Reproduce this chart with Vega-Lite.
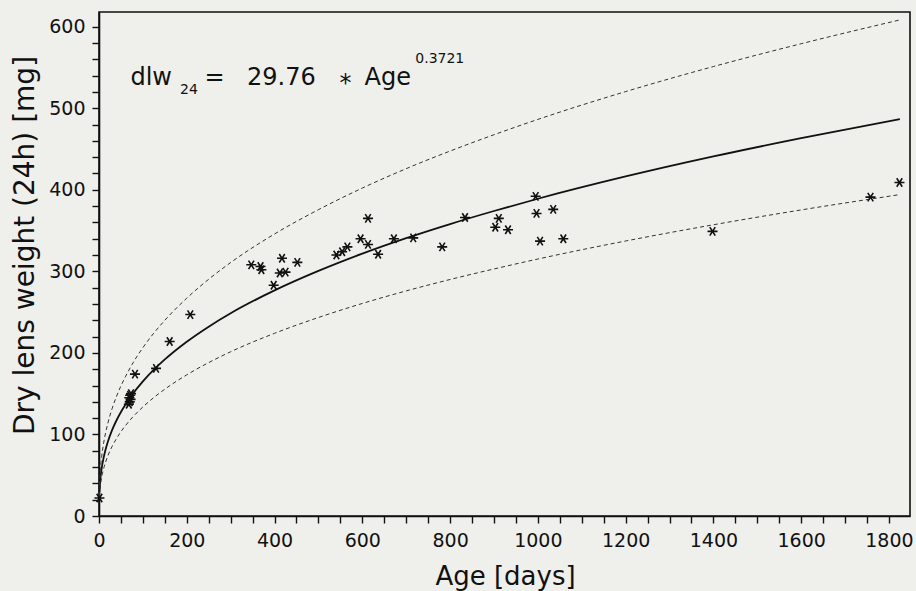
{
  "$schema": "https://vega.github.io/schema/vega-lite/v6.json",
  "width": 811,
  "height": 504,
  "autosize": {"type": "none"},
  "padding": {"left": 99, "top": 12, "right": 6, "bottom": 75},
  "background": "#efefeb",
  "config": {
    "view": {"stroke": "#111111", "strokeWidth": 1.6},
    "font": "DejaVu Sans",
    "axis": {"grid": false, "labelFont": "DejaVu Sans", "titleFont": "DejaVu Sans", "labelColor": "#111111", "titleColor": "#111111", "tickColor": "#111111", "domainColor": "#111111", "tickWidth": 1.4, "domainWidth": 1.6, "titleFontWeight": "normal"}
  },
  "datasets": {
    "curve": [
      {"age": 1, "fit": 29.8, "upper": 37.2, "lower": 24.1},
      {"age": 3, "fit": 44.8, "upper": 56.0, "lower": 36.3},
      {"age": 6, "fit": 58.0, "upper": 72.5, "lower": 47.0},
      {"age": 10, "fit": 70.1, "upper": 87.6, "lower": 56.8},
      {"age": 15, "fit": 81.5, "upper": 101.9, "lower": 66.0},
      {"age": 20, "fit": 90.7, "upper": 113.4, "lower": 73.5},
      {"age": 30, "fit": 105.5, "upper": 131.9, "lower": 85.5},
      {"age": 40, "fit": 117.4, "upper": 146.8, "lower": 95.1},
      {"age": 50, "fit": 127.6, "upper": 159.5, "lower": 103.4},
      {"age": 60, "fit": 136.5, "upper": 170.6, "lower": 110.6},
      {"age": 75, "fit": 148.4, "upper": 185.5, "lower": 120.2},
      {"age": 100, "fit": 165.1, "upper": 206.4, "lower": 133.7},
      {"age": 125, "fit": 179.4, "upper": 224.3, "lower": 145.3},
      {"age": 150, "fit": 192.0, "upper": 240.0, "lower": 155.5},
      {"age": 200, "fit": 213.7, "upper": 267.1, "lower": 173.1},
      {"age": 250, "fit": 232.2, "upper": 290.3, "lower": 188.1},
      {"age": 300, "fit": 248.6, "upper": 310.8, "lower": 201.4},
      {"age": 400, "fit": 276.6, "upper": 345.8, "lower": 224.0},
      {"age": 500, "fit": 300.5, "upper": 375.6, "lower": 243.4},
      {"age": 600, "fit": 321.7, "upper": 402.1, "lower": 260.6},
      {"age": 700, "fit": 340.7, "upper": 425.9, "lower": 276.0},
      {"age": 800, "fit": 358.0, "upper": 447.5, "lower": 290.0},
      {"age": 900, "fit": 374.0, "upper": 467.5, "lower": 302.9},
      {"age": 1000, "fit": 389.0, "upper": 486.3, "lower": 315.1},
      {"age": 1200, "fit": 416.3, "upper": 520.4, "lower": 337.2},
      {"age": 1400, "fit": 440.9, "upper": 551.1, "lower": 357.1},
      {"age": 1600, "fit": 463.3, "upper": 579.1, "lower": 375.3},
      {"age": 1825, "fit": 486.6, "upper": 608.3, "lower": 394.1}
    ],
    "obs": [
      {"age": 1, "w": 22},
      {"age": 68, "w": 137}, {"age": 70, "w": 140}, {"age": 72, "w": 143},
      {"age": 69, "w": 145}, {"age": 71, "w": 148}, {"age": 73, "w": 150},
      {"age": 82, "w": 174}, {"age": 130, "w": 181}, {"age": 161, "w": 214},
      {"age": 208, "w": 247}, {"age": 347, "w": 308}, {"age": 368, "w": 306},
      {"age": 370, "w": 302}, {"age": 398, "w": 283}, {"age": 412, "w": 298},
      {"age": 425, "w": 299}, {"age": 417, "w": 316}, {"age": 452, "w": 311},
      {"age": 541, "w": 320}, {"age": 554, "w": 324}, {"age": 566, "w": 330},
      {"age": 596, "w": 340}, {"age": 613, "w": 365}, {"age": 613, "w": 333},
      {"age": 636, "w": 321}, {"age": 672, "w": 340}, {"age": 716, "w": 341},
      {"age": 782, "w": 330}, {"age": 834, "w": 366}, {"age": 903, "w": 354},
      {"age": 911, "w": 365}, {"age": 932, "w": 351}, {"age": 995, "w": 392},
      {"age": 997, "w": 371}, {"age": 1005, "w": 337}, {"age": 1035, "w": 376},
      {"age": 1058, "w": 340}, {"age": 1398, "w": 349}, {"age": 1758, "w": 391},
      {"age": 1824, "w": 409}
    ]
  },
  "resolve": {"axis": {"x": "independent", "y": "independent"}},
  "layer": [
    {
      "data": {"name": "curve"},
      "mark": {"type": "line", "color": "#111111", "strokeWidth": 1.8, "interpolate": "monotone"},
      "encoding": {
        "x": {"field": "age", "type": "quantitative", "scale": {"domain": [0, 1848], "nice": false, "zero": false},
          "axis": {"orient": "bottom",
            "values": [0, 50, 100, 150, 200, 250, 300, 350, 400, 450, 500, 550, 600, 650, 700, 750, 800, 850, 900, 950, 1000, 1050, 1100, 1150, 1200, 1250, 1300, 1350, 1400, 1450, 1500, 1550, 1600, 1650, 1700, 1750, 1800],
            "format": "d", "labelExpr": "datum.value % 200 === 0 ? datum.label : ''",
            "tickSize": 7, "labelFontSize": 19, "labelPadding": 8, "labelFlush": false, "labelOverlap": false,
            "encode": {"ticks": {
              "y": {"signal": "datum.value % 200 === 0 ? -7 : 0"},
              "y2": {"signal": "datum.value % 200 === 0 ? 7 : 5"}
            }},
            "title": "Age [days]", "titleFontSize": 26, "titleX": 406, "titleY": 68, "titleBaseline": "alphabetic", "titleAlign": "center"}},
        "y": {"field": "fit", "type": "quantitative", "scale": {"domain": [0, 618], "nice": false, "zero": false},
          "axis": {"orient": "left",
            "values": [0, 20, 40, 60, 80, 100, 120, 140, 160, 180, 200, 220, 240, 260, 280, 300, 320, 340, 360, 380, 400, 420, 440, 460, 480, 500, 520, 540, 560, 580, 600],
            "format": "d", "labelExpr": "datum.value % 100 === 0 ? datum.label : ''",
            "tickSize": 7, "labelFontSize": 19, "labelPadding": 7, "labelFlush": false, "labelOverlap": false,
            "encode": {"ticks": {
              "x": {"signal": "datum.value % 100 === 0 ? 7 : 0"},
              "x2": {"signal": "datum.value % 100 === 0 ? -7 : -5"}
            }},
            "title": "Dry lens weight (24h) [mg]", "titleFontSize": 28, "titleAngle": 270, "titleX": -66, "titleY": 233, "titleBaseline": "alphabetic", "titleAlign": "center"}}
      }
    },
    {
      "data": {"name": "curve"},
      "mark": {"type": "line", "color": "#333333", "strokeWidth": 1, "strokeDash": [4, 3], "interpolate": "monotone"},
      "encoding": {
        "x": {"field": "age", "type": "quantitative", "axis": null},
        "y": {"field": "upper", "type": "quantitative", "axis": null}
      }
    },
    {
      "data": {"name": "curve"},
      "mark": {"type": "line", "color": "#333333", "strokeWidth": 1, "strokeDash": [4, 3], "interpolate": "monotone"},
      "encoding": {
        "x": {"field": "age", "type": "quantitative", "axis": null},
        "y": {"field": "lower", "type": "quantitative", "axis": null}
      }
    },
    {
      "data": {"name": "obs"},
      "mark": {"type": "point", "shape": "M-1,0L1,0M-0.55,-0.85L0.55,0.85M-0.55,0.85L0.55,-0.85", "filled": false, "stroke": "#111111", "strokeWidth": 1.6, "size": 100, "opacity": 1},
      "encoding": {
        "x": {"field": "age", "type": "quantitative", "axis": null},
        "y": {"field": "w", "type": "quantitative", "axis": null}
      }
    },
    {
      "data": {"values": [{}]},
      "mark": {"type": "text", "text": "dlw", "font": "DejaVu Sans", "fontSize": 24, "align": "center", "baseline": "alphabetic", "color": "#111111"},
      "encoding": {"x": {"datum": 119, "type": "quantitative", "axis": null}, "y": {"datum": 528.3, "type": "quantitative", "axis": null}}
    },
    {
      "data": {"values": [{}]},
      "mark": {"type": "text", "text": "24", "font": "DejaVu Sans", "fontSize": 14, "align": "center", "baseline": "alphabetic", "color": "#111111"},
      "encoding": {"x": {"datum": 204.8, "type": "quantitative", "axis": null}, "y": {"datum": 517.3, "type": "quantitative", "axis": null}}
    },
    {
      "data": {"values": [{}]},
      "mark": {"type": "text", "text": "=", "font": "DejaVu Sans", "fontSize": 24, "align": "center", "baseline": "alphabetic", "color": "#111111"},
      "encoding": {"x": {"datum": 263.4, "type": "quantitative", "axis": null}, "y": {"datum": 528.3, "type": "quantitative", "axis": null}}
    },
    {
      "data": {"values": [{}]},
      "mark": {"type": "text", "text": "29.76", "font": "DejaVu Sans", "fontSize": 24, "align": "center", "baseline": "alphabetic", "color": "#111111"},
      "encoding": {"x": {"datum": 415.5, "type": "quantitative", "axis": null}, "y": {"datum": 528.3, "type": "quantitative", "axis": null}}
    },
    {
      "data": {"values": [{}]},
      "mark": {"type": "text", "text": "*", "font": "DejaVu Sans", "fontSize": 24, "align": "center", "baseline": "alphabetic", "color": "#111111"},
      "encoding": {"x": {"datum": 561.7, "type": "quantitative", "axis": null}, "y": {"datum": 520.9, "type": "quantitative", "axis": null}}
    },
    {
      "data": {"values": [{}]},
      "mark": {"type": "text", "text": "Age", "font": "DejaVu Sans", "fontSize": 24, "align": "center", "baseline": "alphabetic", "color": "#111111"},
      "encoding": {"x": {"datum": 657.9, "type": "quantitative", "axis": null}, "y": {"datum": 528.3, "type": "quantitative", "axis": null}}
    },
    {
      "data": {"values": [{}]},
      "mark": {"type": "text", "text": "0.3721", "font": "DejaVu Sans", "fontSize": 14, "align": "center", "baseline": "alphabetic", "color": "#111111"},
      "encoding": {"x": {"datum": 776.5, "type": "quantitative", "axis": null}, "y": {"datum": 554.9, "type": "quantitative", "axis": null}}
    }
  ]
}
